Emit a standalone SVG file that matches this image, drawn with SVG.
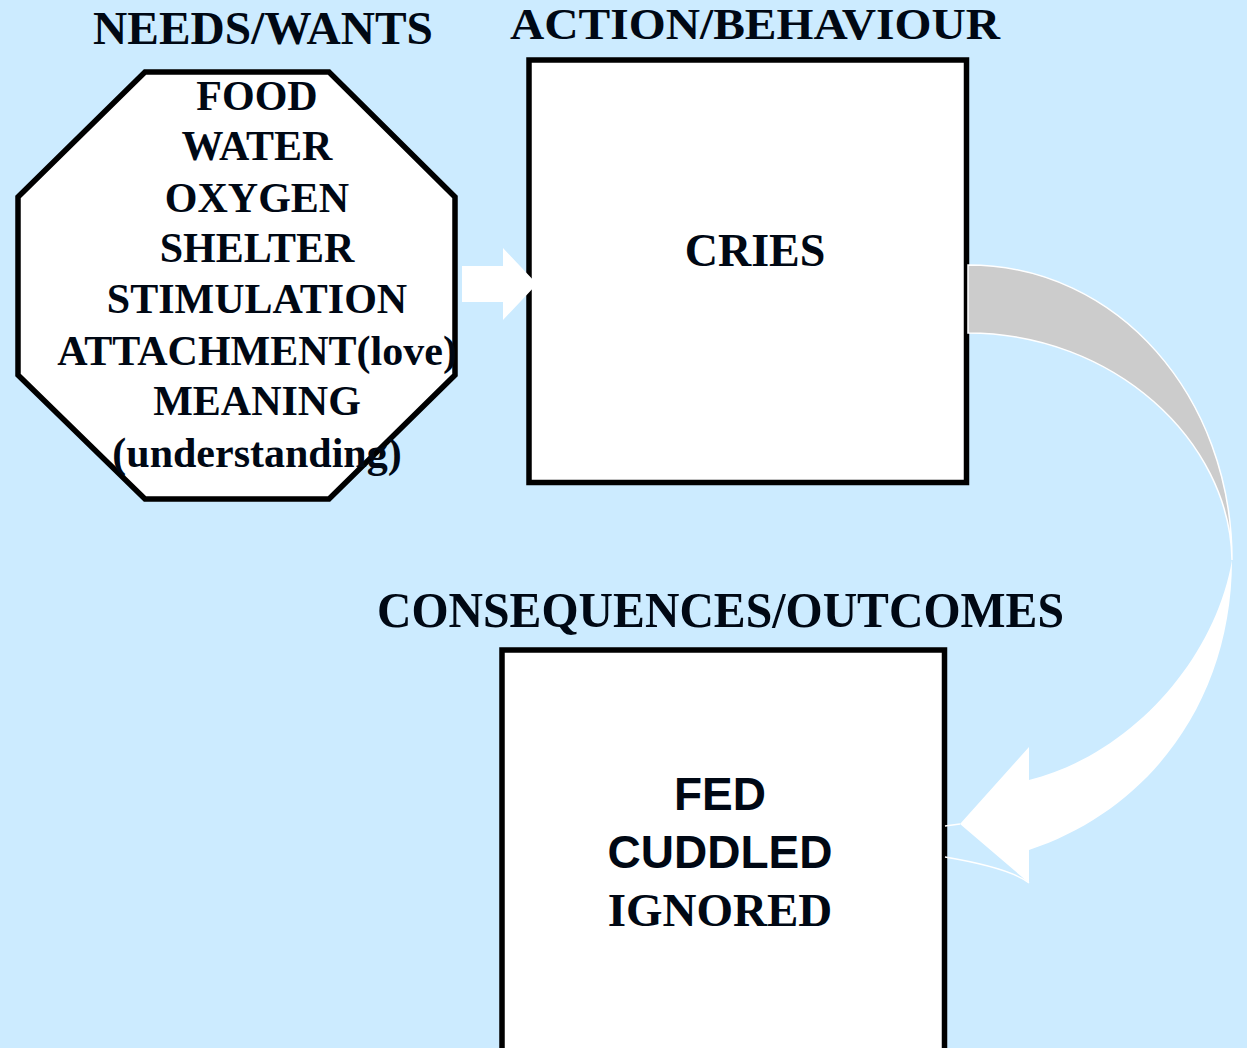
<svg xmlns="http://www.w3.org/2000/svg" width="1247" height="1048" viewBox="0 0 1247 1048">
<style>
.serif{font-family:"Liberation Serif","Times New Roman",serif;font-weight:bold;fill:#000814;text-anchor:middle}
.sans{font-family:"Liberation Sans",Arial,sans-serif;font-weight:bold;fill:#000814;text-anchor:middle}
.shape{fill:#ffffff;stroke:#000000;stroke-width:5.5}
</style>
<rect x="0" y="0" width="1247" height="1048" fill="#CCEBFF"/>
<g id="titles">
<text class="serif" x="263" y="44" font-size="47" textLength="340" lengthAdjust="spacingAndGlyphs">NEEDS/WANTS</text>
<text class="serif" x="755" y="39" font-size="45" textLength="490" lengthAdjust="spacingAndGlyphs">ACTION/BEHAVIOUR</text>
<text class="serif" x="720.5" y="627" font-size="51" textLength="687" lengthAdjust="spacingAndGlyphs">CONSEQUENCES/OUTCOMES</text>
</g>
<g id="needs">
<polygon class="shape" stroke-width="5" points="145,72 329,72 455,197 455,375 329,499 145,499 18,375 18,197"/>
<g class="serif" font-size="42">
<text x="257" y="110">FOOD</text>
<text x="257" y="160">WATER</text>
<text x="257" y="212">OXYGEN</text>
<text x="257" y="262">SHELTER</text>
<text x="257" y="313">STIMULATION</text>
<text x="257" y="365">ATTACHMENT(love)</text>
<text x="257" y="415">MEANING</text>
<text x="257" y="467">(understanding)</text>
</g>
</g>
<g id="action">
<rect class="shape" x="529" y="60" width="437.5" height="422.5"/>
<text class="serif" x="755" y="266" font-size="46">CRIES</text>
</g>
<g id="consequences">
<rect class="shape" x="502" y="650" width="442.5" height="420"/>
<text class="sans" x="720" y="810" font-size="46">FED</text>
<text class="sans" x="720" y="868" font-size="46">CUDDLED</text>
<text class="serif" x="720" y="926" font-size="47">IGNORED</text>
</g>
<g id="connectors">
<polygon fill="#ffffff" points="462,266 503,266 503,248 537,284 503,320 503,302 462,302"/>
<path d="M968,265 C1118,265 1232,397 1232,560 C1230,440 1113,333 968,333 Z" fill="#CCCCCC" stroke="#ffffff" stroke-width="1.5"/>
<path d="M1232,560 C1232,700 1150,810 1029,850 L1029,883 L960,824 L1029,747 L1029,780 C1130,755 1215,660 1232,560 Z" fill="#ffffff"/>
<path d="M945,826 L960,824 M945,857 Q1010,868 1029,883" fill="none" stroke="#ffffff" stroke-width="1.5"/>
</g>
</svg>
